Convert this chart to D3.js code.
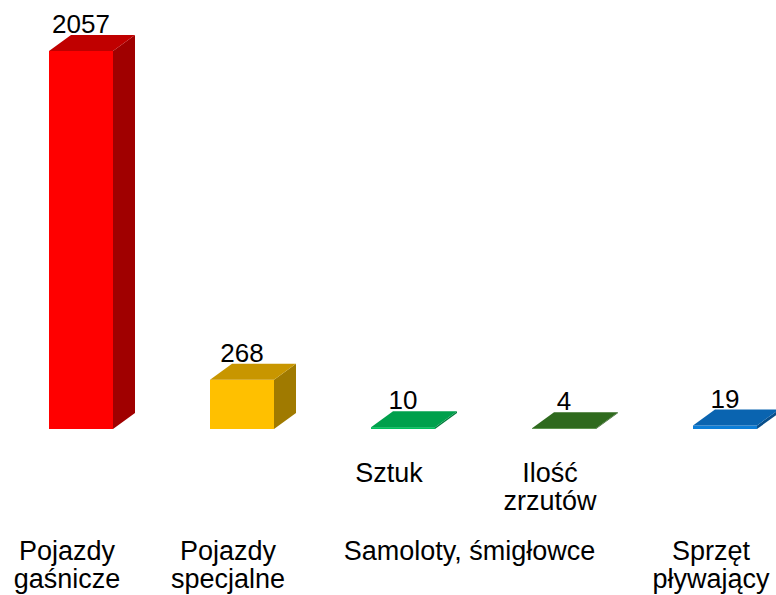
<!DOCTYPE html>
<html>
<head>
<meta charset="utf-8">
<script src="https://cdn.jsdelivr.net/npm/d3@7"></script>
<style>
  body { margin: 0; background: #fff; }
  svg { display: block; }
  text { font-family: "Liberation Sans", Arial, sans-serif; fill: #000; }
</style>
</head>
<body>
<div class="canvas"></div>
<script>
// data
const categories = ['gasnicze', 'specjalne', 'sztuk', 'zrzuty', 'plywajacy'];
const values = [2057, 268, 10, 4, 19];
// category labels (lines), placed at the bar positions
const catLabels = [
  ['Pojazdy', 'gaśnicze'],
  ['Pojazdy', 'specjalne'],
  ['Sztuk'],
  ['Ilość', 'zrzutów'],
  ['Sprzęt', 'pływający']
];
// group label spanning bars 3 and 4
const groupLabel = 'Samoloty, śmigłowce';
const groupCats = ['sztuk', 'zrzuty'];

// colours: front, top, side
const fronts = ['#ff0000', '#ffc000', '#00c05c', '#3c8526', '#0c7ed8'];
const tops   = ['#c00000', '#c89600', '#00a04c', '#2f6a1e', '#0a64b0'];
const sides  = ['#a00000', '#a07a00', '#007e3c', '#245218', '#084e8a'];

const width = 776, height = 595;
const svg = d3.select('.canvas')
  .append('svg')
  .attr('width', width)
  .attr('height', height);

// 3d depth offset
const depthX = 22, depthY = 16;
const barW = 64;
const labelShift = -14;

const x = d3.scaleBand()
  .domain(categories)
  .range([0.5, 805.5]);

const y = d3.scaleLinear()
  .domain([0, 2057])
  .range([429, 51]);

const cx = d => x(d) + x.bandwidth() / 2;

const bars = svg.append('g')
  .selectAll('g')
  .data(categories)
  .enter()
  .append('g');

// side face
bars.append('path')
  .attr('fill', (d, i) => sides[i])
  .attr('d', (d, i) => {
    const x1 = cx(d) + barW / 2, y0 = y(0), y1 = y(values[i]);
    return `M${x1},${y0} L${x1 + depthX},${y0 - depthY} L${x1 + depthX},${y1 - depthY} L${x1},${y1} Z`;
  });

// front face
bars.append('rect')
  .attr('fill', (d, i) => fronts[i])
  .attr('x', d => cx(d) - barW / 2)
  .attr('width', barW)
  .attr('y', (d, i) => y(values[i]))
  .attr('height', (d, i) => y(0) - y(values[i]));

// top face
bars.append('path')
  .attr('fill', (d, i) => tops[i])
  .attr('d', (d, i) => {
    const x0 = cx(d) - barW / 2, x1 = x0 + barW, y1 = y(values[i]);
    return `M${x0},${y1} L${x0 + depthX},${y1 - depthY} L${x1 + depthX},${y1 - depthY} L${x1},${y1} Z`;
  });

// value labels
bars.append('text')
  .attr('x', d => cx(d))
  .attr('y', (d, i) => y(values[i]) - depthY - 2)
  .attr('text-anchor', 'middle')
  .style('font-size', '26px')
  .text((d, i) => values[i]);

// category labels
const catG = svg.append('g');
categories.forEach((c, i) => {
  const lines = catLabels[i];
  const isSub = groupCats.includes(c);
  const base = isSub ? 482 : 560;
  const t = catG.append('text')
    .attr('text-anchor', 'middle')
    .style('font-size', '27px');
  lines.forEach((l, j) => {
    t.append('tspan')
      .attr('x', cx(c) + labelShift)
      .attr('y', base + j * 28)
      .text(l);
  });
});

// group label
svg.append('text')
  .attr('x', d3.mean(groupCats, cx) + labelShift)
  .attr('y', 560)
  .attr('text-anchor', 'middle')
  .style('font-size', '27px')
  .text(groupLabel);
</script>
</body>
</html>
